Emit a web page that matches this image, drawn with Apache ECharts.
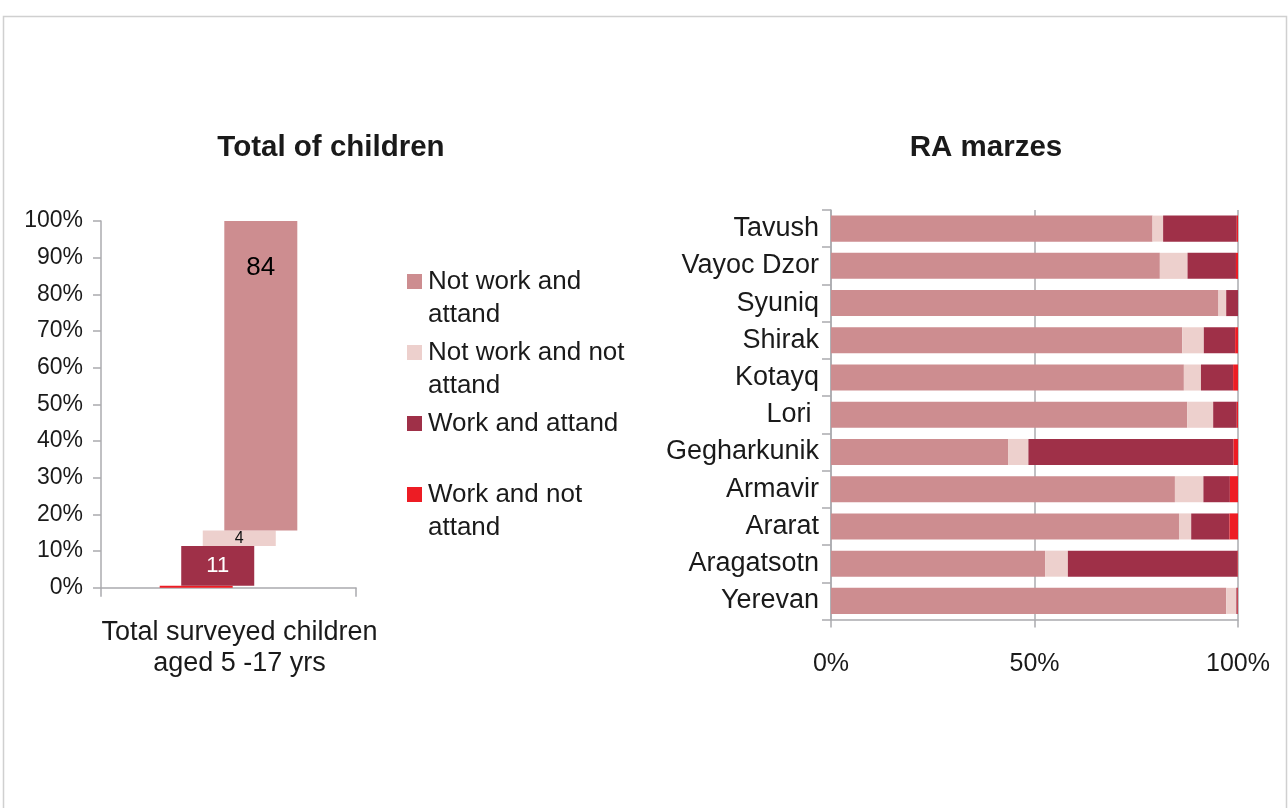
<!DOCTYPE html>
<html>
<head>
<meta charset="utf-8">
<script src="https://cdn.jsdelivr.net/npm/echarts@6/dist/echarts.min.js"></script>
<style>
html,body{margin:0;padding:0;background:#fff;}
#chart{width:1288px;height:808px;}
</style>
</head>
<body>
<div id="chart"></div>
<script>
// ---- data ----
const seriesNames = ['Not work and attand', 'Not work and not attand', 'Work and attand', 'Work and not attand'];
const legendLines = [['Not work and', 'attand'], ['Not work and not', 'attand'], ['Work and attand', ''], ['Work and not', 'attand']];
const colors = ['#CD8D90', '#EDD0CD', '#9F3048', '#ED1C24'];

// Left panel: total of children (%), in series order above
const totalCategory = ['Total surveyed children\naged 5 -17 yrs'];
const totalValues = [84.4, 4.2, 10.9, 0.5];

// Right panel: RA marzes (%), bottom to top
const marzes = ['Yerevan', 'Aragatsotn', 'Ararat', 'Armavir', 'Gegharkunik', 'Lori ', 'Kotayq', 'Shirak', 'Syuniq', 'Vayoc Dzor', 'Tavush'];
const notWorkAttand    = [97.1, 52.6, 85.5, 84.5, 43.5, 87.5, 86.7, 86.3, 95.2, 80.8, 79.0];
const notWorkNotAttand = [2.5, 5.6, 3.0, 7.0, 5.0, 6.4, 4.2, 5.3, 1.9, 6.8, 2.6];
const workAttand       = [0.3, 41.7, 9.4, 6.5, 50.4, 5.8, 7.9, 7.7, 2.9, 11.9, 18.1];
const workNotAttand    = [0.1, 0.1, 2.1, 2.0, 1.1, 0.3, 1.2, 0.7, 0.0, 0.5, 0.3];
const yTicksLeft = {min: 0, max: 100, interval: 10};
const xTicksRight = {min: 0, max: 100, interval: 50};

// ---- chart ----
const FONT = '"Liberation Sans", Arial, sans-serif';
const TXT = '#1a1a1a';
const AX = '#ababaf';

const chart = echarts.init(document.getElementById('chart'), null, {renderer: 'canvas'});

// left cascade: drawn from bottom (Work and not attand) upward
const leftOrder = [3, 2, 1, 0];
const leftSeries = [];
let cum = 0;
leftOrder.forEach((idx, k) => {
  const stack = 'L' + k;
  leftSeries.push({
    type: 'bar', name: 'base' + k, stack: stack, xAxisIndex: 0, yAxisIndex: 0,
    data: [cum], barWidth: 73, barGap: '-70.5%',
    itemStyle: {color: 'rgba(0,0,0,0)'}, silent: true, emphasis: {disabled: true}
  });
  let label = {show: false};
  if (idx === 0) label = {show: true, position: 'insideTop', distance: 34, color: '#000', fontSize: 26, fontFamily: FONT, formatter: p => Math.round(p.value)};
  if (idx === 1) label = {show: true, position: 'inside', color: '#111', fontSize: 16, fontFamily: FONT, formatter: p => Math.round(p.value)};
  if (idx === 2) label = {show: true, position: 'inside', color: '#fff', fontSize: 22, fontFamily: FONT, formatter: p => Math.round(p.value)};
  leftSeries.push({
    type: 'bar', name: seriesNames[idx], stack: stack, xAxisIndex: 0, yAxisIndex: 0,
    data: [totalValues[idx]], barWidth: 73, barGap: '-70.5%',
    itemStyle: {color: colors[idx]}, label: label
  });
  cum += totalValues[idx];
});

const rightData = [notWorkAttand, notWorkNotAttand, workAttand, workNotAttand];
const rightSeries = rightData.map((arr, i) => ({
  type: 'bar', name: seriesNames[i], stack: 'R', xAxisIndex: 1, yAxisIndex: 1,
  data: arr, barCategoryGap: '30%', itemStyle: {color: colors[i]}
}));

const rich = {
  g: {width: 6, lineHeight: 33},
  g2: {width: 21, lineHeight: 33}
};
colors.forEach((c, i) => { rich['s' + i] = {width: 15, height: 15, backgroundColor: c, lineHeight: 33}; });

const option = {
  backgroundColor: '#fff',
  animation: false,
  textStyle: {fontFamily: FONT},
  title: [
    {text: 'Total of children', left: 326, top: 128, textAlign: 'center',
     textStyle: {fontSize: 29.5, fontWeight: 'bold', color: TXT, fontFamily: FONT}},
    {text: 'RA marzes', left: 981, top: 128, textAlign: 'center',
     textStyle: {fontSize: 29.5, fontWeight: 'bold', color: TXT, fontFamily: FONT}}
  ],
  legend: {
    orient: 'vertical', left: 396, top: 260, itemGap: 5,
    selectedMode: false, icon: 'rect', itemWidth: 1, itemHeight: 1,
    itemStyle: {opacity: 0},
    data: seriesNames,
    formatter: function (name) {
      const i = seriesNames.indexOf(name);
      const l = legendLines[i];
      return '{s' + i + '|}{g|}' + l[0] + '\n{g2|}' + l[1];
    },
    textStyle: {fontSize: 26, color: TXT, fontFamily: FONT, lineHeight: 33, rich: rich}
  },
  grid: [
    {left: 101, top: 221, width: 255, height: 366.7},
    {left: 831, top: 210, width: 407, height: 409.5}
  ],
  xAxis: [
    {type: 'category', gridIndex: 0, data: totalCategory,
     axisLine: {lineStyle: {color: AX, width: 1.5}},
     axisTick: {show: true, length: 9, lineStyle: {color: AX, width: 1.5}},
     axisLabel: {color: TXT, fontSize: 27, fontFamily: FONT, margin: 29, lineHeight: 31, padding: [0, 0, 0, 22], align: 'center'}},
    {type: 'value', gridIndex: 1, min: xTicksRight.min, max: xTicksRight.max, interval: xTicksRight.interval,
     axisLine: {show: true, lineStyle: {color: AX, width: 1.5}},
     axisTick: {show: true, length: 8, lineStyle: {color: AX, width: 1.5}},
     splitLine: {show: true, lineStyle: {color: AX, width: 1.5}},
     axisLabel: {color: TXT, fontSize: 25, fontFamily: FONT, margin: 32, formatter: '{value}%'}}
  ],
  yAxis: [
    {type: 'value', gridIndex: 0, min: yTicksLeft.min, max: yTicksLeft.max, interval: yTicksLeft.interval,
     axisLine: {show: true, lineStyle: {color: AX, width: 1.5}},
     axisTick: {show: true, length: 8, lineStyle: {color: AX, width: 1.5}},
     splitLine: {show: false},
     axisLabel: {color: TXT, fontSize: 23, fontFamily: FONT, margin: 18, formatter: '{value}%'}},
    {type: 'category', gridIndex: 1, data: marzes,
     axisLine: {lineStyle: {color: AX, width: 1.5}},
     axisTick: {show: true, length: 9, lineStyle: {color: AX, width: 1.5}},
     axisLabel: {color: TXT, fontSize: 27, fontFamily: FONT, margin: 12}}
  ],
  graphic: [
    {type: 'rect', shape: {x: 3.5, y: 16.5, width: 1283, height: 820}, silent: true,
     style: {fill: 'none', stroke: '#d0d0d0', lineWidth: 1.5}, z: -1}
  ],
  series: leftSeries.concat(rightSeries)
};
chart.setOption(option);
</script>
</body>
</html>
